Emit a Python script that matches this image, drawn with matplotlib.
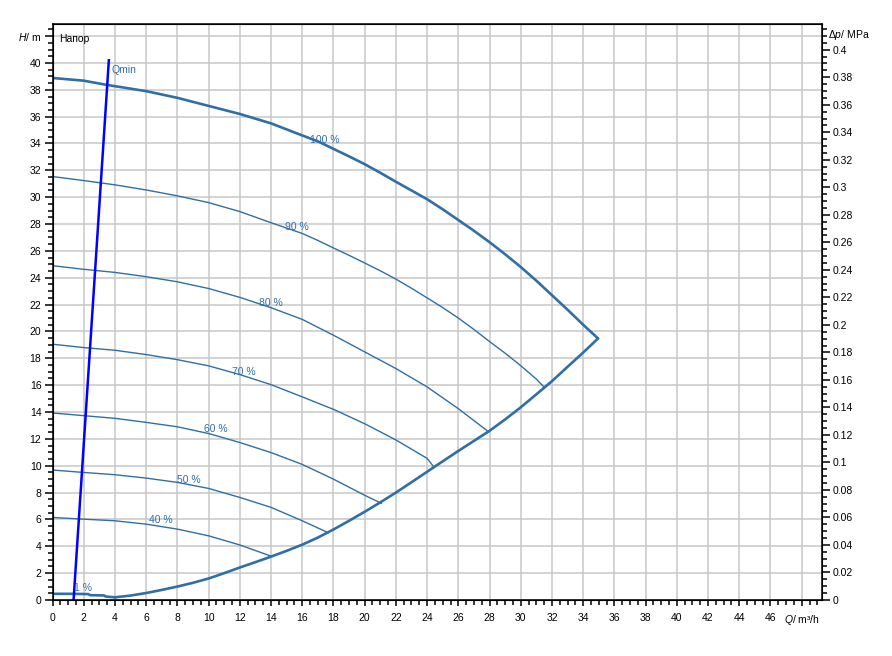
import matplotlib
matplotlib.use("Agg")
import matplotlib.pyplot as plt
from matplotlib.ticker import MultipleLocator, FixedLocator, FuncFormatter
import numpy as np

plt.rcParams['font.family'] = ['Liberation Sans', 'DejaVu Sans']
plt.rcParams['mathtext.fontset'] = 'custom'
plt.rcParams['mathtext.rm'] = 'Liberation Sans'
plt.rcParams['mathtext.it'] = 'Liberation Sans:italic'

# ---- data (Q in m3/h, H in m) ----
q100 = [0, 2, 3.4, 6, 8, 10, 12, 14, 16, 17, 18, 19, 20, 21, 22, 23, 24, 25, 26, 27,
        28, 29, 30, 31, 32, 33, 34, 34.95]
h100 = [38.88, 38.68, 38.38, 37.9, 37.4, 36.8, 36.2, 35.5, 34.6, 34.16, 33.6, 33.04,
        32.46, 31.82, 31.15, 30.5, 29.85, 29.1, 28.3, 27.5, 26.65, 25.75, 24.8, 23.78,
        22.7, 21.62, 20.5, 19.48]

q90 = [0, 2, 4, 6, 8, 10, 12, 14, 16, 17, 18, 19, 20, 21, 22, 23, 24, 25, 26, 27, 28,
       29, 30, 31, 31.54]
h90 = [31.54, 31.24, 30.92, 30.54, 30.1, 29.6, 28.93, 28.1, 27.3, 26.78, 26.22, 25.67,
       25.1, 24.52, 23.9, 23.22, 22.5, 21.78, 21.0, 20.15, 19.25, 18.38, 17.45, 16.45, 15.8]

q80 = [0, 2, 4, 6, 8, 10, 12, 14, 16, 18, 20, 22, 24, 26, 27.95]
h80 = [24.9, 24.63, 24.4, 24.08, 23.7, 23.2, 22.54, 21.77, 20.9, 19.72, 18.48, 17.24,
       15.87, 14.25, 12.52]

q70 = [0, 2, 4, 6, 8, 10, 12, 14, 16, 18, 20, 22, 24, 24.45]
h70 = [19.05, 18.8, 18.6, 18.28, 17.9, 17.44, 16.79, 16.04, 15.13, 14.2, 13.13, 11.92,
       10.55, 9.88]

q60 = [0, 2, 4, 6, 8, 10, 12, 14, 16, 18, 20, 21.07]
h60 = [13.93, 13.73, 13.53, 13.23, 12.9, 12.4, 11.73, 10.98, 10.1, 9.0, 7.8, 7.2]

q50 = [0, 2, 4, 6, 8, 10, 12, 14, 16, 17.65]
h50 = [9.68, 9.5, 9.33, 9.08, 8.76, 8.31, 7.64, 6.9, 5.9, 5.02]

q40 = [0, 2, 4, 6, 8, 10, 12, 14.02]
h40 = [6.15, 6.02, 5.9, 5.65, 5.28, 4.78, 4.1, 3.26]

q1 = [0, 1.2, 2.3, 2.4, 3.3, 3.4, 4.0]
h1 = [0.46, 0.46, 0.44, 0.36, 0.34, 0.26, 0.2]

# max flow limit curve
qmax = [4.0, 5, 6, 7, 8, 9, 10, 11, 12, 13, 14, 15, 16, 17, 18, 19, 20, 21, 22, 23, 24,
        25, 26, 27, 28, 29, 30, 31, 32, 33, 34, 34.95]
hmax = [0.2, 0.33, 0.52, 0.75, 1.0, 1.28, 1.6, 2.0, 2.42, 2.82, 3.23, 3.66, 4.12, 4.65,
        5.25, 5.9, 6.57, 7.27, 8.0, 8.77, 9.55, 10.33, 11.1, 11.85, 12.6, 13.45, 14.35,
        15.32, 16.3, 17.37, 18.43, 19.48]

# Qmin line
qmin_q = [1.35, 3.61]
qmin_h = [0.0, 40.2]

# label positions (Q, H) and texts
curve_labels = ["100 %", "90 %", "80 %", "70 %", "60 %", "50 %", "40 %", "1 %"]
label_q = [16.5, 14.9, 13.2, 11.5, 9.7, 8.0, 6.2, 1.4]
label_h = [34.25, 27.8, 22.1, 17.0, 12.76, 8.96, 5.97, 0.9]

MPA_PER_M = 0.00976

col = '#2f6fa7'

fig = plt.figure(figsize=(8.92, 6.56), dpi=100)
ax = fig.add_axes([52.5 / 892, 56 / 656, (822 - 52.5) / 892, (632 - 56) / 656])

ax.set_xlim(0, 49.3)
ax.set_ylim(0, 42.9)

ax.plot(q100, h100, color=col, lw=1.9, solid_capstyle='round', solid_joinstyle='round')
ax.plot(qmax, hmax, color=col, lw=1.9, solid_capstyle='round', solid_joinstyle='round')
for q, h in [(q90, h90), (q80, h80), (q70, h70), (q60, h60), (q50, h50), (q40, h40)]:
    ax.plot(q, h, color=col, lw=1.0)
ax.plot(q1, h1, color=col, lw=1.9)
ax.plot(qmin_q, qmin_h, color='#0000ff', lw=1.8)

for t, q, h in zip(curve_labels, label_q, label_h):
    ax.text(q, h, t, color=col, fontsize=7.5, va='center', ha='left')
ax.text(3.8, 39.45, "Qmin", color=col, fontsize=7.5, va='center', ha='left')
ax.text(0.4, 41.8, "Напор", color='black', fontsize=7.5, va='center', ha='left')

# grid
ax.set_axisbelow(True)
ax.xaxis.set_major_locator(MultipleLocator(2))
ax.xaxis.set_minor_locator(MultipleLocator(0.5))
ax.yaxis.set_major_locator(MultipleLocator(2))
ax.yaxis.set_minor_locator(MultipleLocator(0.5))
ax.grid(True, which='major', color='#c8c8c8', lw=1.1)

xlabels = lambda v, p: r'$\mathit{Q}$/ m³/h' if abs(v - 48) < 1e-6 else '%d' % v
ylabels = lambda v, p: r'$\mathit{H}$/ m' if abs(v - 42) < 1e-6 else '%d' % v
ax.xaxis.set_major_formatter(FuncFormatter(xlabels))
ax.yaxis.set_major_formatter(FuncFormatter(ylabels))

ax.tick_params(axis='y', which='major', length=6, width=1.1, labelsize=7.5, pad=2)
ax.tick_params(axis='y', which='minor', length=3.5, width=1.1)
ax.tick_params(axis='x', which='major', length=4.5, width=1.1, labelsize=7.5, pad=5)
ax.tick_params(axis='x', which='minor', length=3.5, width=1.1)
for s in ax.spines.values():
    s.set_linewidth(1.1)

# right axis: differential pressure
ax2 = ax.twinx()
ax2.set_ylim(0, 42.9 * MPA_PER_M)
ax2.yaxis.set_major_locator(FixedLocator(np.arange(0, 0.401, 0.02)))
ax2.yaxis.set_minor_locator(MultipleLocator(0.005))
ax2.yaxis.set_major_formatter(FuncFormatter(lambda v, p: '%g' % round(v, 3)))
ax2.tick_params(axis='y', which='major', length=6, width=1.1, labelsize=7.5, pad=2)
ax2.tick_params(axis='y', which='minor', length=3.5, width=1.1)
ax2.text(1.008, 42.1 / 42.9, r'Δ$\mathit{p}$/ MPa', transform=ax2.transAxes,
         fontsize=7.5, va='center', ha='left')

fig.savefig('out.png', dpi=100)
